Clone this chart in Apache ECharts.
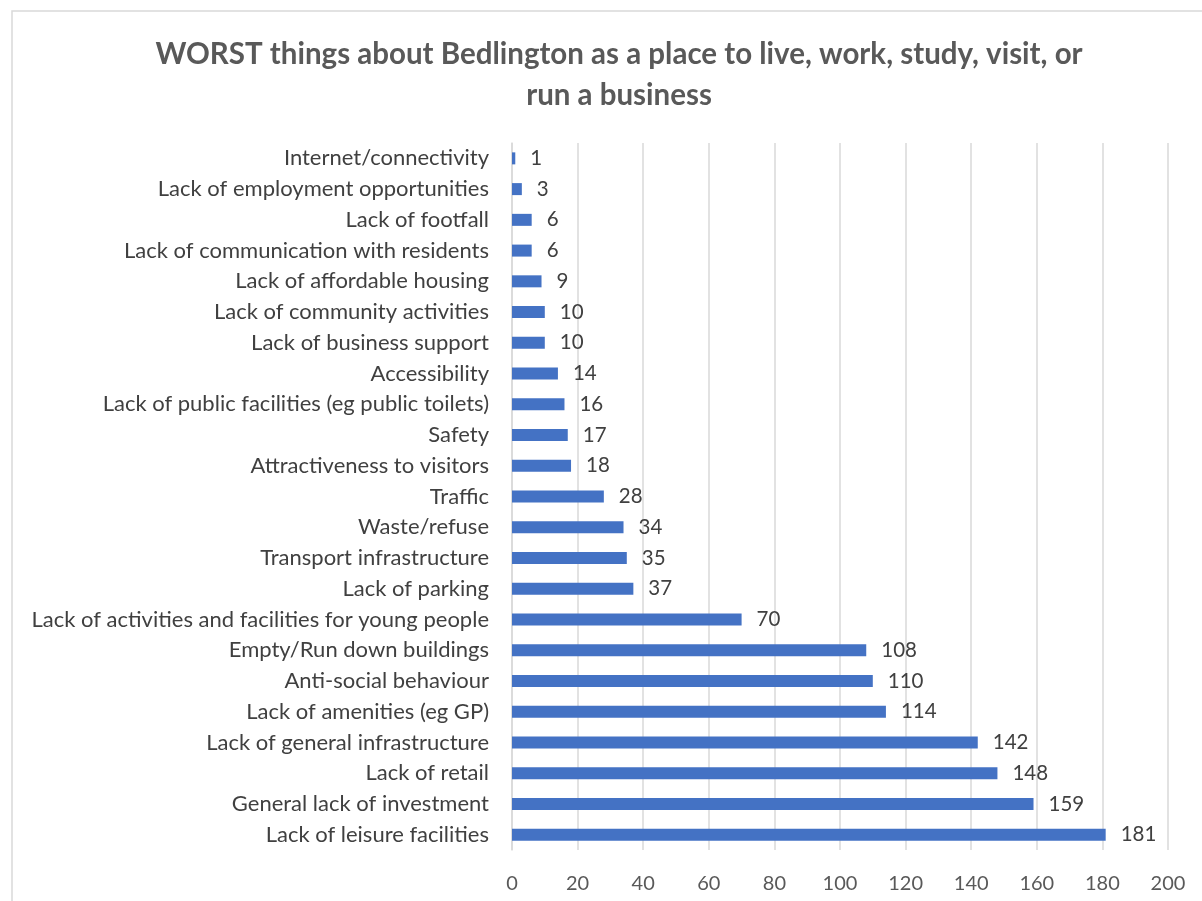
<!DOCTYPE html>
<html>
<head>
<meta charset="utf-8">
<script src="https://cdn.jsdelivr.net/npm/echarts@6/dist/echarts.min.js"></script>
<style>html,body{margin:0;padding:0;background:#fff;}#chart{width:1202px;height:901px;}</style>
</head>
<body>
<div id="chart"></div>
<script>
const titleText = 'WORST things about Bedlington as a place to live, work, study, visit, or\nrun a business';
const categories = [
  'Lack of leisure facilities',
  'General lack of investment',
  'Lack of retail',
  'Lack of general infrastructure',
  'Lack of amenities (eg GP)',
  'Anti-social behaviour',
  'Empty/Run down buildings',
  'Lack of activities and facilities for young people',
  'Lack of parking',
  'Transport infrastructure',
  'Waste/refuse',
  'Traffic',
  'Attractiveness to visitors',
  'Safety',
  'Lack of public facilities (eg public toilets)',
  'Accessibility',
  'Lack of business support',
  'Lack of community activities',
  'Lack of affordable housing',
  'Lack of communication with residents',
  'Lack of footfall',
  'Lack of employment opportunities',
  'Internet/connectivity'
];
const values = [181, 159, 148, 142, 114, 110, 108, 70, 37, 35, 34, 28, 18, 17, 16, 14, 10, 10, 9, 6, 6, 3, 1];
const xMin = 0, xMax = 200, xInterval = 20;

const chart = echarts.init(document.getElementById('chart'));
chart.setOption({
  animation: false,
  backgroundColor: '#fff',
  textStyle: { fontFamily: 'Lato' },
  graphic: [{
    type: 'rect', silent: true,
    shape: { x: 12, y: 11, width: 1200, height: 900 },
    style: { fill: 'none', stroke: '#d9d9d9', lineWidth: 1.5 }
  }],
  title: {
    text: titleText,
    left: 614, textAlign: 'center', top: 29,
    textStyle: { fontFamily: 'Lato', fontWeight: 'bold', fontSize: 29.5, color: '#595959', lineHeight: 41 }
  },
  grid: { left: 512, right: 34, top: 143, bottom: 51, containLabel: false },
  xAxis: {
    type: 'value', min: xMin, max: xMax, interval: xInterval,
    axisLine: { show: false }, axisTick: { show: false },
    splitLine: { show: true, lineStyle: { color: '#d9d9d9', width: 1.5 } },
    axisLabel: { fontFamily: 'Lato', fontSize: 20, color: '#595959', margin: 24 }
  },
  yAxis: {
    type: 'category', data: categories,
    axisLine: { show: true, lineStyle: { color: '#d9d9d9', width: 1.5 } },
    axisTick: { show: false },
    axisLabel: { fontFamily: 'Lato', fontSize: 22, color: '#404040', margin: 23 }
  },
  series: [{
    type: 'bar', data: values, barWidth: 12,
    itemStyle: { color: '#4472C4' },
    label: { show: true, position: 'right', distance: 15, fontFamily: 'Lato', fontSize: 20.5, color: '#404040' }
  }]
});
</script>
</body>
</html>
